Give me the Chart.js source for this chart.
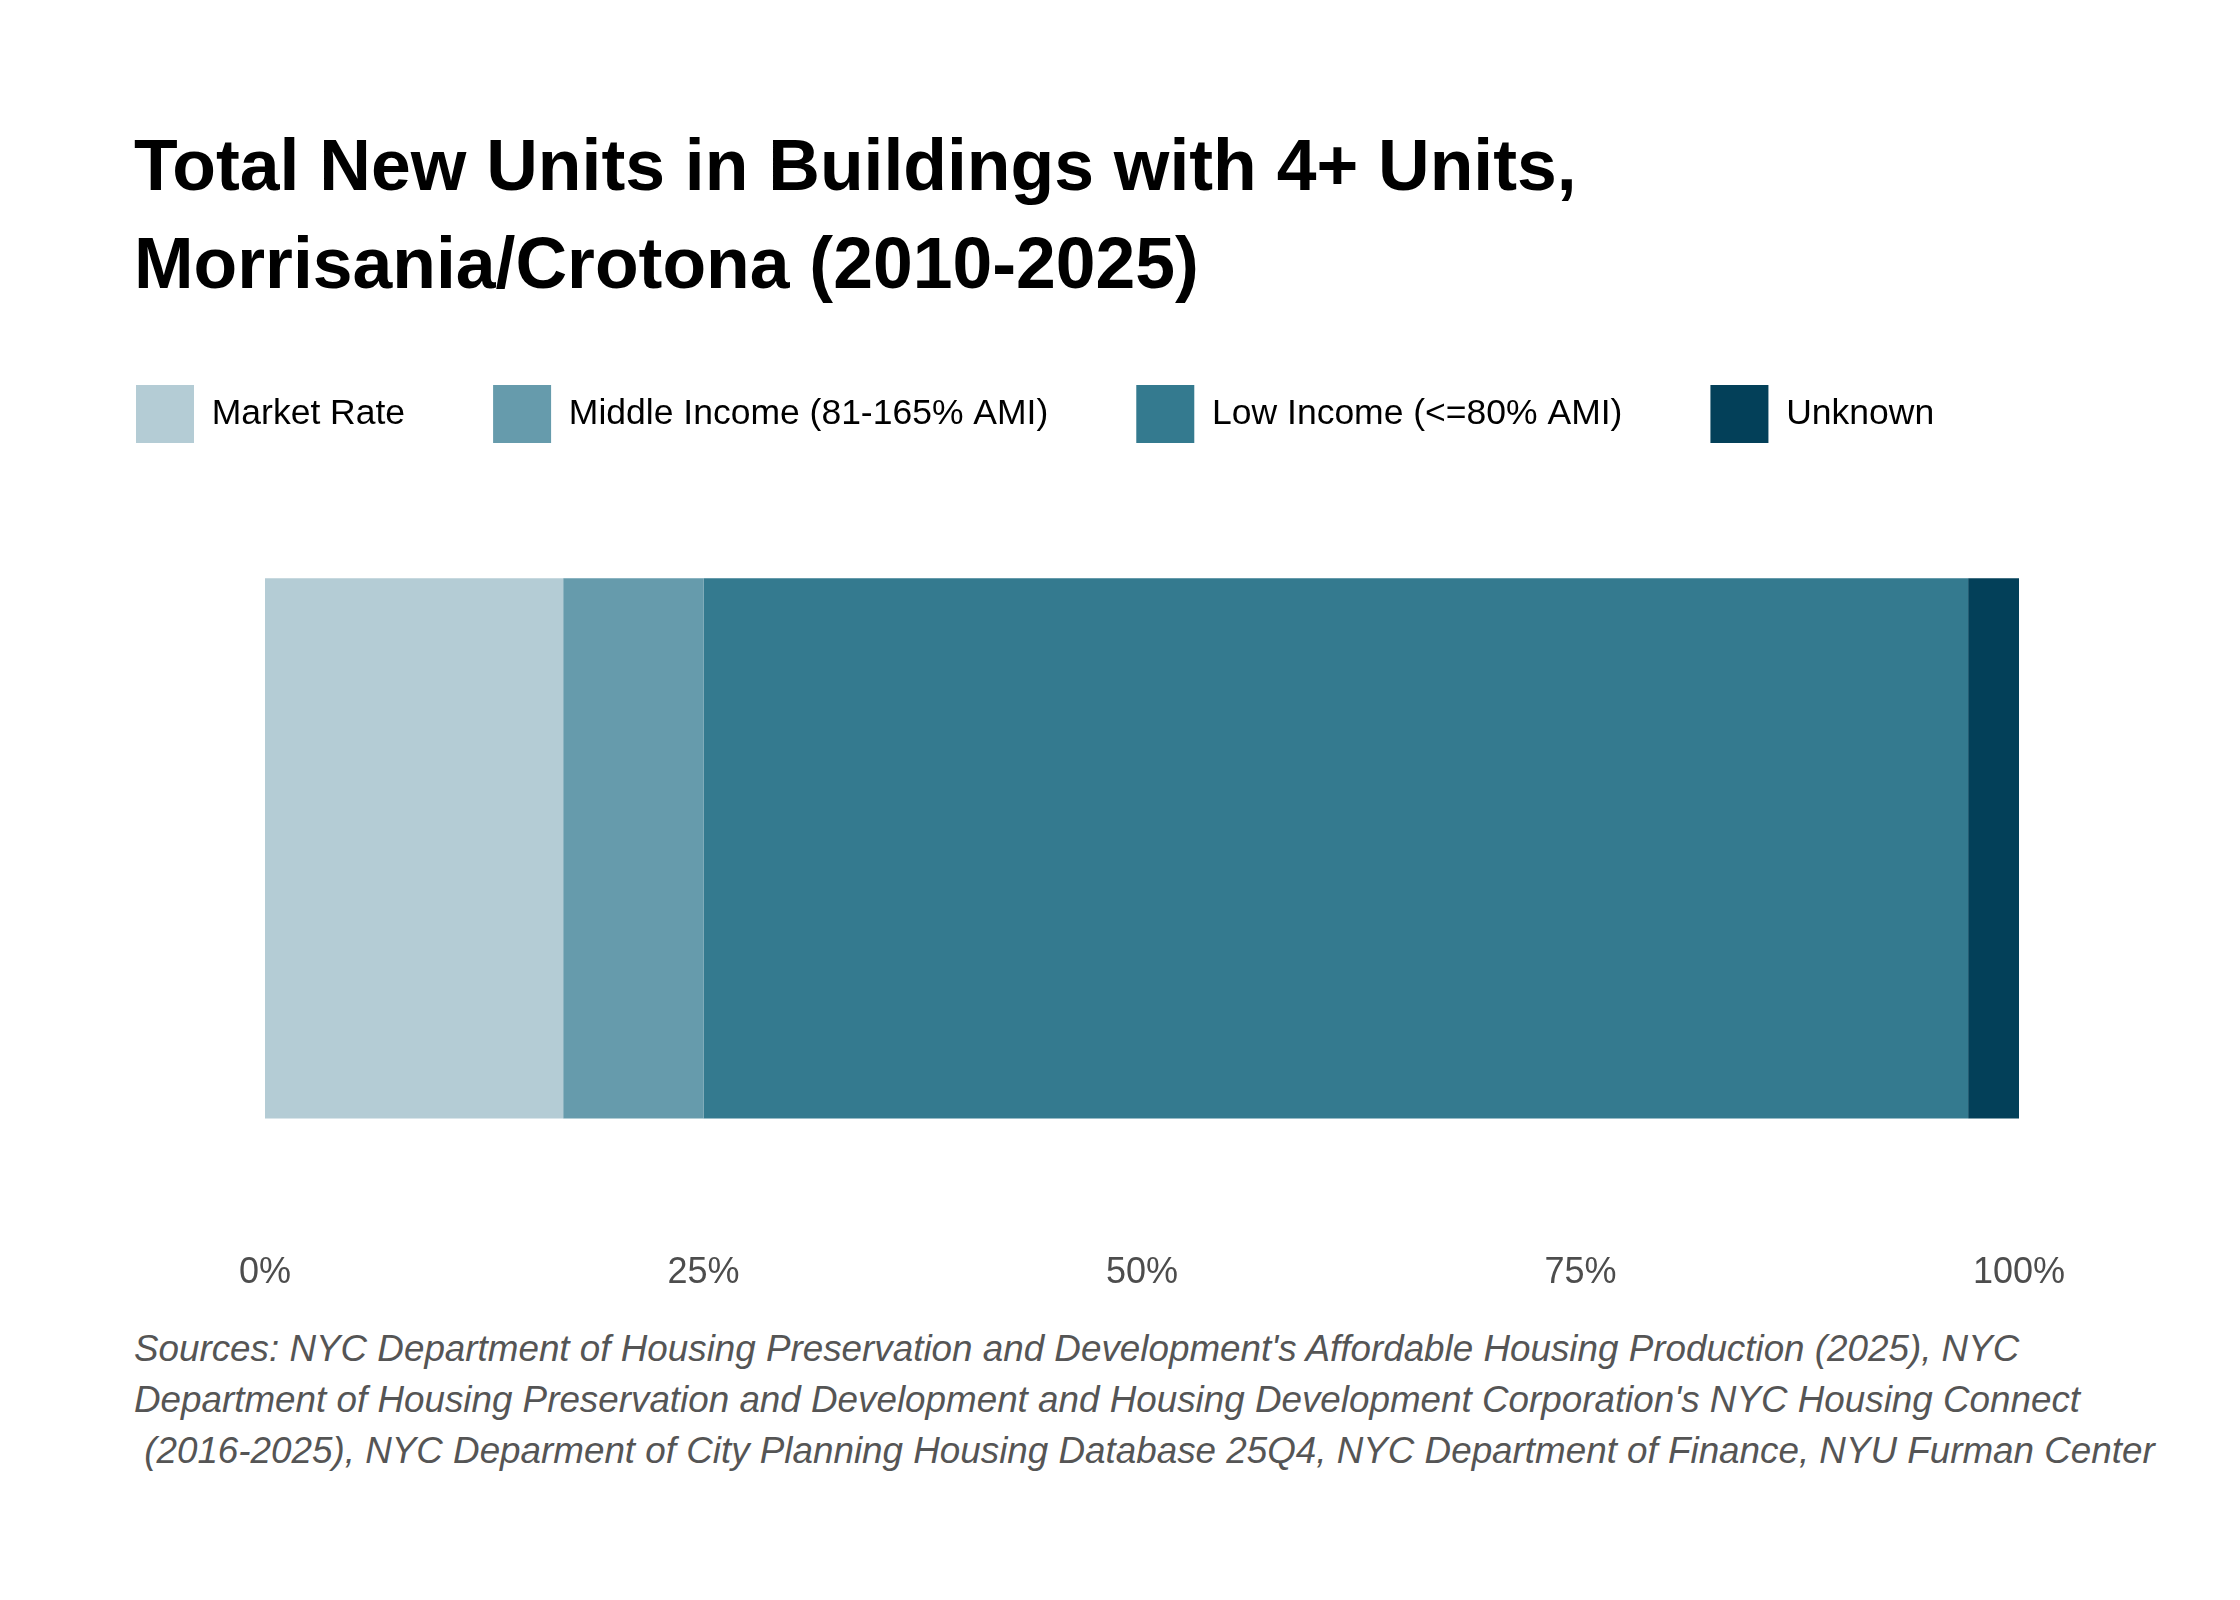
<!DOCTYPE html>
<html><head><meta charset="utf-8">
<script src="https://cdn.jsdelivr.net/npm/chart.js@4.4.0/dist/chart.umd.min.js"></script>
<style>
html,body{margin:0;padding:0;background:#fff;width:2240px;height:1600px;overflow:hidden;}
#title{position:absolute;left:134px;top:116px;margin:0;font-family:"Liberation Sans";font-weight:bold;font-size:71.5px;line-height:98px;color:#000;white-space:pre;}
#wrap{position:absolute;left:48px;top:297px;width:2192px;height:1006px;}
#sources{position:absolute;left:134px;top:1323px;margin:0;font-family:"Liberation Sans";font-style:italic;font-size:36.8px;line-height:51px;color:#555;white-space:pre;}
</style></head>
<body>
<div id="title"></div>
<div id="wrap"><canvas id="c"></canvas></div>
<div id="sources"></div>
<script>
const titleLines = ['Total New Units in Buildings with 4+ Units,', 'Morrisania/Crotona (2010-2025)'];
const sourceLines = [
  "Sources: NYC Department of Housing Preservation and Development's Affordable Housing Production (2025), NYC",
  "Department of Housing Preservation and Development and Housing Development Corporation's NYC Housing Connect",
  " (2016-2025), NYC Deparment of City Planning Housing Database 25Q4, NYC Department of Finance, NYU Furman Center"
];
const categories = ['Morrisania/Crotona'];
const seriesNames = ['Market Rate', 'Middle Income (81-165% AMI)', 'Low Income (<=80% AMI)', 'Unknown'];
const marketRate = [17.0];
const middleIncome = [8.0];
const lowIncome = [72.1];
const unknown = [2.9];
const xTickValues = [0, 25, 50, 75, 100];
const xTickLabels = ['0%', '25%', '50%', '75%', '100%'];
const seriesColors = ['#b4ccd5', '#669bac', '#347a8f', '#034059'];

document.getElementById('title').textContent = titleLines.join('\n');
document.getElementById('sources').textContent = sourceLines.join('\n');

const seriesValues = [marketRate, middleIncome, lowIncome, unknown];
const datasets = seriesNames.map((name, i) => ({
  label: name,
  data: seriesValues[i],
  backgroundColor: seriesColors[i],
  borderWidth: 0,
  barPercentage: 0.683,
  categoryPercentage: 1.0
}));

new Chart(document.getElementById('c'), {
  type: 'bar',
  data: { labels: categories, datasets: datasets },
  options: {
    responsive: true,
    maintainAspectRatio: false,
    animation: false,
    indexAxis: 'y',
    layout: { padding: 0 },
    plugins: {
      legend: {
        position: 'top',
        align: 'start',
        labels: {
          boxWidth: 58, boxHeight: 58, padding: 88,
          color: '#000',
          font: { family: 'Liberation Sans', size: 35.5 }
        }
      },
      title: { display: false },
      tooltip: { enabled: false }
    },
    scales: {
      x: {
        stacked: true, min: 0, max: 100, position: 'bottom',
        afterBuildTicks: (s) => { s.ticks = xTickValues.map(v => ({ value: v })); },
        ticks: {
          callback: (v) => xTickLabels[xTickValues.indexOf(v)],
          color: '#4d4d4d', padding: 8, maxRotation: 0, autoSkip: false,
          font: { family: 'Liberation Sans', size: 36 }
        },
        grid: { display: false, drawTicks: false },
        border: { display: false }
      },
      y: {
        stacked: true, position: 'left',
        ticks: { display: false },
        grid: { display: false, drawTicks: false },
        border: { display: false },
        afterFit: (s) => { s.width = 217; }
      },
      y2: {
        type: 'category', position: 'right',
        ticks: { display: false },
        grid: { display: false, drawTicks: false },
        border: { display: false },
        afterFit: (s) => { s.width = 221; }
      }
    }
  }
});
</script>
</body></html>
